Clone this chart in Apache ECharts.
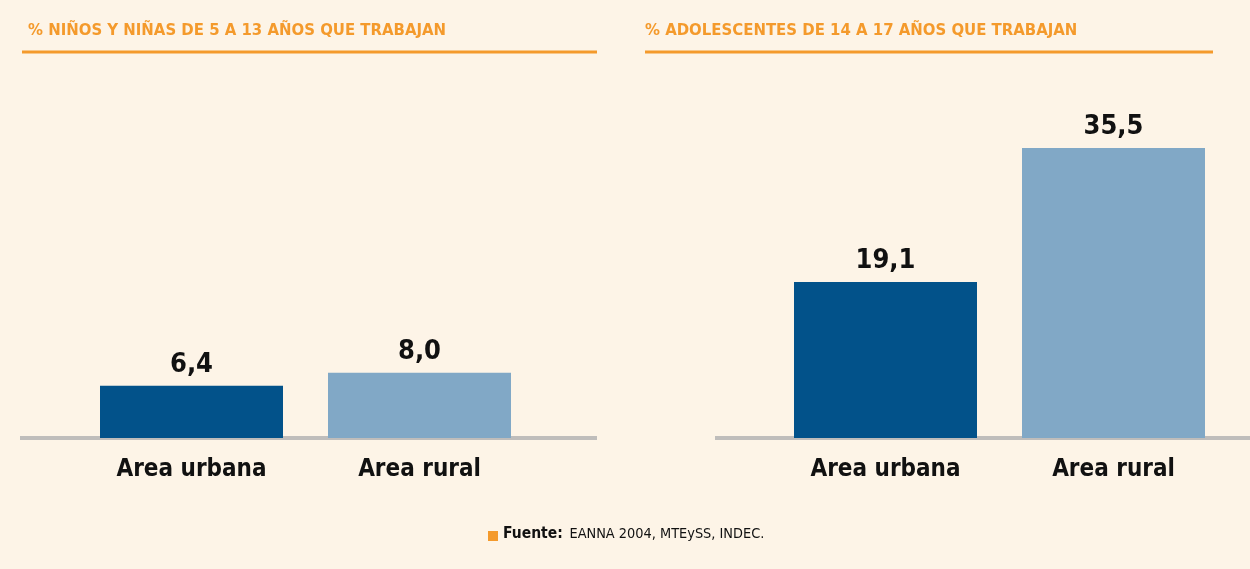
<!DOCTYPE html>
<html>
<head>
<meta charset="utf-8">
<script src="https://cdn.jsdelivr.net/npm/echarts@6/dist/echarts.min.js"></script>
<style>
  html, body { margin: 0; padding: 0; background: #fdf4e7; }
  #chart { width: 1250px; height: 569px; }
</style>
</head>
<body>
<div id="chart"></div>
<script>
// datos
var categories = ['Area urbana', 'Area rural'];
var ninosValues = [6.4, 8.0];         // 5 a 13 años
var adolescentesValues = [19.1, 35.5]; // 14 a 17 años
var barColors = ['#02528a', '#81a8c6'];

var narrow = '"Liberation Sans Narrow", "DejaVu Sans Condensed", "Arial Narrow", sans-serif';
var orange = '#f49a2c';

function fmt(v) {
  return v.toFixed(1).replace('.', ',');
}

function barData(values) {
  return values.map(function (v, i) {
    return { value: v, itemStyle: { color: barColors[i] } };
  });
}

var chart = echarts.init(document.getElementById('chart'), null, { renderer: 'canvas' });

var option = {
  backgroundColor: '#fdf4e7',
  animation: false,
  title: [{
    text: '% NIÑOS Y NIÑAS DE 5 A 13 AÑOS QUE TRABAJAN',
    left: 23, top: 17,
    textStyle: { color: orange, fontFamily: narrow, fontWeight: 'bold', fontSize: 16.6 }
  }, {
    text: '% ADOLESCENTES DE 14 A 17 AÑOS QUE TRABAJAN',
    left: 640, top: 17,
    textStyle: { color: orange, fontFamily: narrow, fontWeight: 'bold', fontSize: 16.6 }
  }],
  grid: [
    { left: 77.5, width: 456, top: 111.2, bottom: 131 },
    { left: 771.5, width: 456, top: 111.2, bottom: 131 }
  ],
  xAxis: [0, 1].map(function (g) {
    return {
      type: 'category',
      gridIndex: g,
      data: categories,
      axisLine: { show: false },
      axisTick: { show: false },
      axisLabel: {
        interval: 0,
        margin: 20,
        color: '#111',
        fontFamily: narrow,
        fontWeight: 'bold',
        fontSize: 24
      }
    };
  }),
  yAxis: [0, 1].map(function (g) {
    return {
      type: 'value',
      gridIndex: g,
      min: 0, max: 40,
      show: false
    };
  }),
  series: [{
    type: 'bar',
    xAxisIndex: 0, yAxisIndex: 0,
    barWidth: 183,
    data: barData(ninosValues),
    label: {
      show: true, position: 'top', distance: 7,
      formatter: function (p) { return fmt(p.value); },
      color: '#111', fontFamily: narrow, fontWeight: 'bold', fontSize: 27
    }
  }, {
    type: 'bar',
    xAxisIndex: 1, yAxisIndex: 1,
    barWidth: 183,
    data: barData(adolescentesValues),
    label: {
      show: true, position: 'top', distance: 7,
      formatter: function (p) { return fmt(p.value); },
      color: '#111', fontFamily: narrow, fontWeight: 'bold', fontSize: 27
    }
  }],
  graphic: [
    // subrayado de los títulos
    { type: 'rect', z: 0, shape: { x: 22, y: 50.5, width: 575, height: 3 }, style: { fill: orange } },
    { type: 'rect', z: 0, shape: { x: 645, y: 50.5, width: 568, height: 3 }, style: { fill: orange } },
    // líneas de base
    { type: 'rect', z: 0, shape: { x: 20, y: 436, width: 577, height: 4 }, style: { fill: '#bfbdbb' } },
    { type: 'rect', z: 0, shape: { x: 715, y: 436, width: 535, height: 4 }, style: { fill: '#bfbdbb' } },
    // fuente
    { type: 'rect', z: 0, shape: { x: 488, y: 531, width: 10, height: 10 }, style: { fill: orange } },
    {
      type: 'text', z: 0, left: 503, top: 526,
      style: {
        text: '{b|Fuente:}  {r|EANNA 2004, MTEySS, INDEC.}',
        rich: {
          b: { fontFamily: narrow, fontWeight: 'bold', fontSize: 15.5, fill: '#111' },
          r: { fontFamily: narrow, fontSize: 14.4, fill: '#111' }
        }
      }
    }
  ]
};

chart.setOption(option);
</script>
</body>
</html>
